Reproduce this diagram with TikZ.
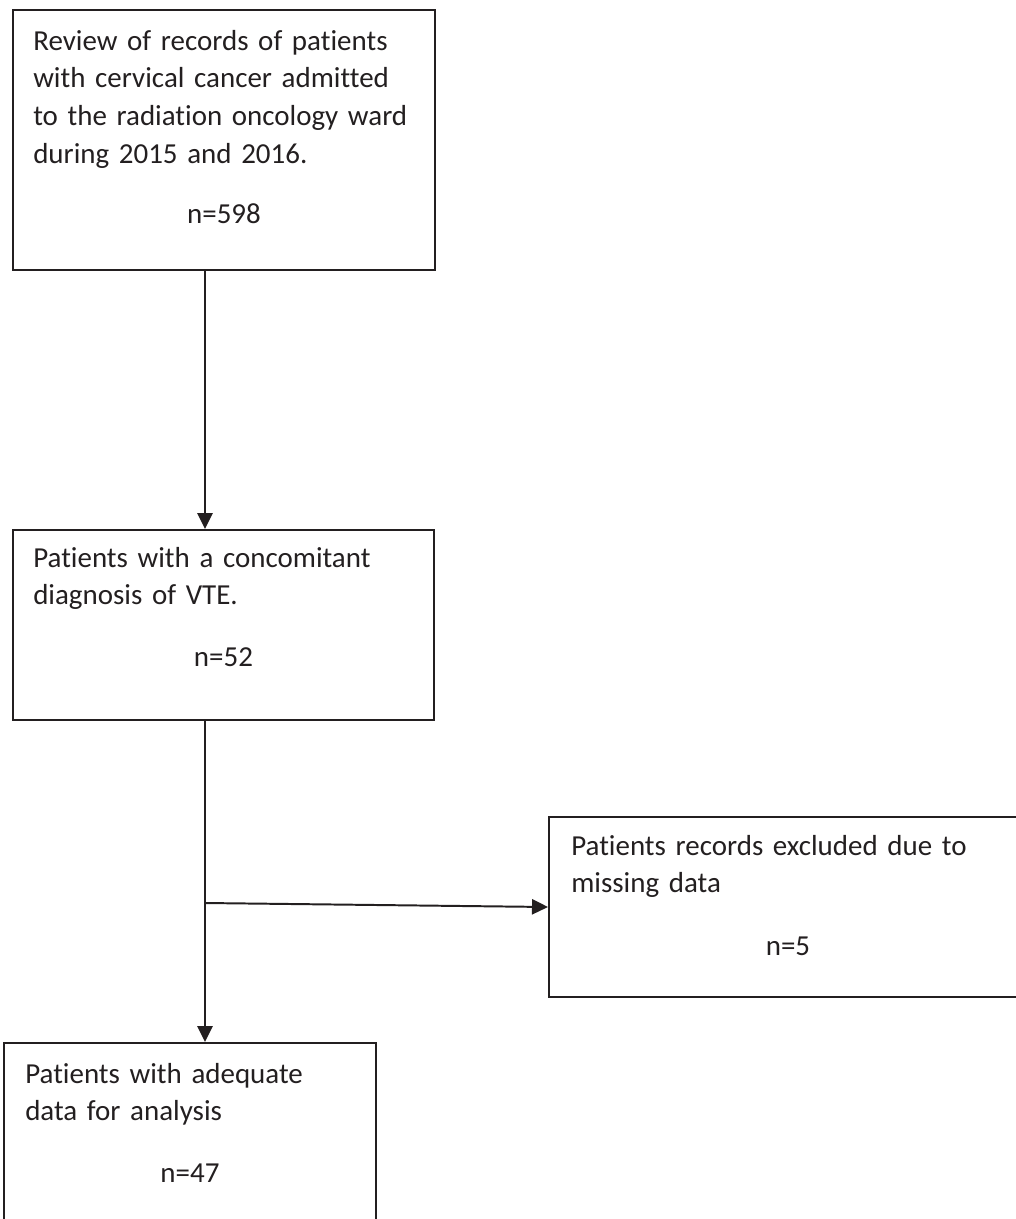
\documentclass[tikz,border=0pt]{standalone}
\usepackage{fontspec}
\setmainfont{Carlito}[Ligatures={NoCommon,NoContextual}]
\usepackage{xcolor}
\usetikzlibrary{arrows.meta,fit,calc}

\definecolor{ink}{HTML}{231F20}

\begin{document}
\begin{tikzpicture}[x=0.025cm, y=-0.025cm,
    box/.style={draw=ink, line width=1.4pt, inner sep=0pt},
    txt/.style={anchor=base west, align=left, inner sep=0pt, text width=10.5cm,
        text=ink, font=\fontsize{20.6pt}{27pt}\selectfont},
    num/.style={anchor=base, inner sep=0pt, text=ink,
        font=\fontsize{20.6pt}{27pt}\selectfont},
    flow/.style={draw=ink, line width=1.4pt, -{Triangle[length=0.4cm, width=0.38cm]}}]

    % 画布范围：与原图同尺寸 1016 x 1219
    \useasboundingbox (0, 0) rectangle (1016, 1219);

    % 四个方框
    \node[box, fit={(13, 10) (435, 270)}] (box1) {};
    \node[box, fit={(13, 530) (434, 720)}] (box2) {};
    \node[box, fit={(549, 817) (1027, 997)}] (box3) {};
    \node[box, fit={(4, 1043) (376, 1240)}] (box4) {};

    % 方框中的文字
    \node[txt] (t1) at (33, 50) {Review of records of patients\\
        with cervical cancer admitted\\
        to the radiation oncology ward\\
        during 2015 and 2016.};
    \node[num] (n1) at (box1.center |- 0, 223) {n=598};

    \node[txt] (t2) at (33, 567) {Patients with a concomitant\\
        diagnosis of VTE.};
    \node[num] (n2) at (box2.center |- 0, 666) {n=52};

    \node[txt] (t3) at (571, 855) {Patients records excluded due to\\
        missing data};
    \node[num] (n3) at (box3.center |- 0, 955) {n=5};

    \node[txt] (t4) at (25, 1083) {Patients with adequate\\
        data for analysis};
    \node[num] (n4) at (box4.center |- 0, 1182) {n=47};

    % 分支点
    \coordinate (split) at (205, 903);

    % 连线
    \draw[flow] (box1.south -| split) -- (box2.north -| split);
    \draw[flow] (box2.south -| split) -- (box4.north -| split);
    \draw[flow] (split) -- (box3.west);
\end{tikzpicture}
\end{document}
